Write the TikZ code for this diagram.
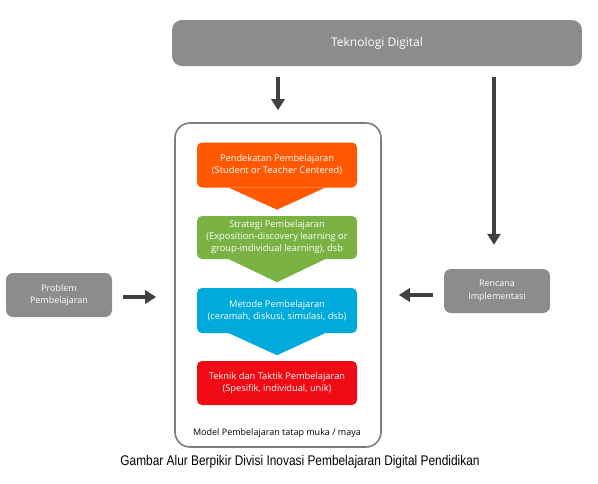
\documentclass[tikz,border=0pt]{standalone}
\usepackage{fontspec}
\setmainfont{Open Sans}
\newfontfamily\capfont[FakeStretch=0.85]{Liberation Sans}
\usetikzlibrary{arrows.meta,positioning,calc}
\definecolor{slate}{RGB}{140,140,140}
\definecolor{frame}{RGB}{125,125,125}
\definecolor{ink}{RGB}{64,64,64}
\definecolor{tangerine}{RGB}{255,88,0}
\definecolor{grass}{RGB}{122,178,68}
\definecolor{sky}{RGB}{0,170,218}
\definecolor{scarlet}{RGB}{240,10,20}
\tikzset{
  >={Triangle[length=11pt,width=13pt]},
  greybox/.style={fill=slate,text=white,rounded corners=7pt,
    minimum width=106pt,minimum height=44pt,align=center,font=\fontsize{9}{12.5}\selectfont},
  stage/.style={fill=#1,text=white,rounded corners=5pt,minimum width=160pt,
    minimum height=44pt,align=center,font=\fontsize{9.3}{12}\selectfont},
  stage/.default=tangerine,
  chevron/.style={fill=#1},
  flow/.style={->,draw=ink,line width=4.5pt},
}
\begin{document}
\begin{tikzpicture}[x=1pt,y=-1pt]
    \useasboundingbox (0,0) rectangle (598,483);
    \node[greybox,minimum width=410pt,minimum height=46pt,rounded corners=10pt,font=\fontsize{12}{14}\selectfont] (tek) at (377,43) {Teknologi Digital};
    \node[draw=frame,line width=1.6pt,rounded corners=15pt,minimum width=206pt,minimum height=324pt] (model) at (278,285) {};
    \node[font=\fontsize{9}{11}\selectfont] (mtext) at (277,433) {Model Pembelajaran tatap muka / maya};
    \node[stage=tangerine,minimum height=45pt] (pend) at (277,165) {Pendekatan Pembelajaran\\(Student or Teacher Centered)};
    \node[stage=grass,minimum height=43pt] (strat) at (277,237.5) {Strategi Pembelajaran\\(Exposition-discovery learning or\\group-individual learning), dsb};
    \node[stage=sky,minimum height=45pt] (meto) at (277,310.5) {Metode Pembelajaran\\(ceramah, diskusi, simulasi, dsb)};
    \node[stage=scarlet] (tekn) at (277,383) {Teknik dan Taktik Pembelajaran\\(Spesifik, individual, unik)};
    % chevrons between the stages
    \fill[chevron=tangerine] ($(pend.south)+(-48,0)$) -- ($(pend.south)+(48,0)$) -- ($(pend.south)+(0,22)$) -- cycle;
    \fill[chevron=grass] ($(strat.south)+(-48,0)$) -- ($(strat.south)+(48,0)$) -- ($(strat.south)+(0,23)$) -- cycle;
    \fill[chevron=sky] ($(meto.south)+(-48,0)$) -- ($(meto.south)+(48,0)$) -- ($(meto.south)+(0,22)$) -- cycle;
    \node[greybox] (prob) at (59,295) {Problem\\Pembelajaran};
    \node[greybox] (ren) at (497,291) {Rencana\\Implementasi};
    \draw[flow,shorten <=11pt,shorten >=12pt] (tek.south -| model.north) -- (model.north);
    \draw[flow,shorten <=11pt,shorten >=24pt] ($(tek.south -| ren.north)+(-3,0)$) -- ($(ren.north)+(-3,0)$);
    \draw[flow,shorten <=11pt,shorten >=18pt] ($(prob.east)+(0,2)$) -- ($(prob.east -| model.west)+(0,2)$);
    \draw[flow,shorten <=11pt,shorten >=17pt] ($(ren.west)+(0,4)$) -- ($(ren.west -| model.east)+(0,4)$);
    \node[font=\capfont\fontsize{14}{16}\selectfont] (cap) at (300,462) {Gambar Alur Berpikir Divisi Inovasi Pembelajaran Digital Pendidikan};
\end{tikzpicture}
\end{document}
